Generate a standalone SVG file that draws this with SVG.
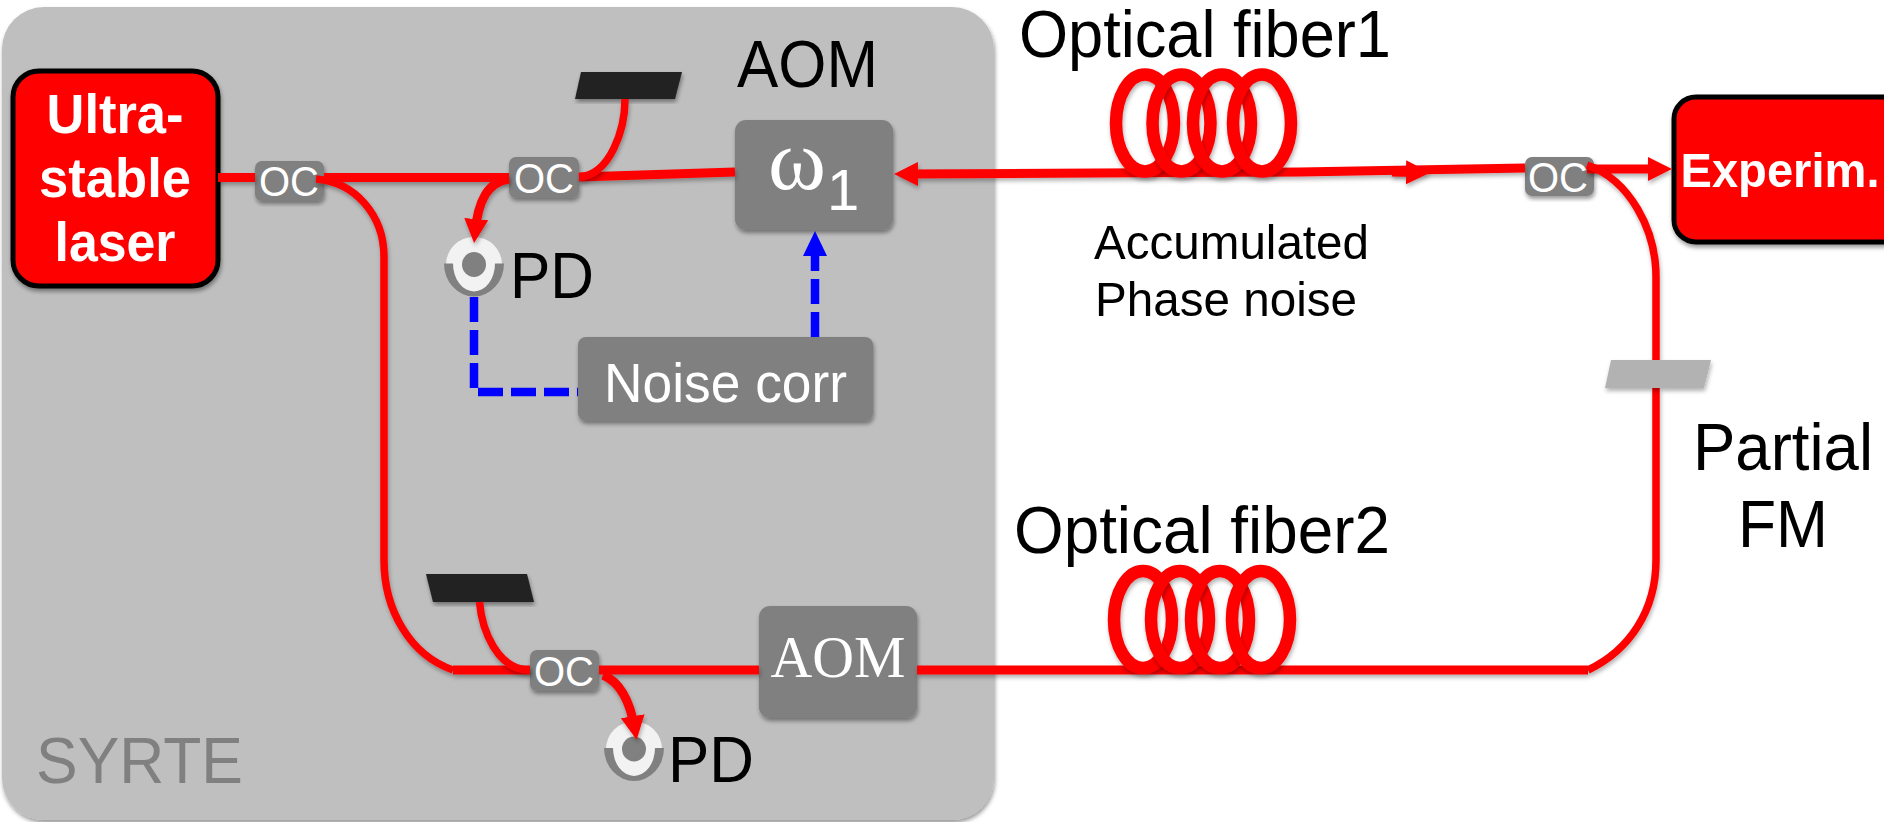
<svg xmlns="http://www.w3.org/2000/svg" width="1884" height="822" viewBox="0 0 1884 822">
<style>
text{font-family:"Liberation Sans",Arial,sans-serif}
.serif{font-family:"Liberation Serif","Times New Roman",serif}
.k{fill:#000}
.w{fill:#fff}
.b{font-weight:bold;fill:#fff;text-anchor:middle}
.box{fill:#808080;filter:url(#sh)}
.oc{font-size:42px;fill:#fff;text-anchor:middle}
.laser{fill:#f00;stroke:#000;stroke-width:5;filter:url(#sh)}
.r{fill:none;stroke:#f00;stroke-width:9;filter:url(#sh2)}
.r6{fill:none;stroke:#f00;stroke-width:7.500;filter:url(#sh2)}
.bl{fill:none;stroke:#00f;stroke-width:8.500;stroke-dasharray:25 8}
.coil{fill:none;stroke:#f00;stroke-width:12.500;filter:url(#sh2)}
.mir{fill:#222;filter:url(#sh)}
</style>
<defs>
<filter id="sh" x="-15%" y="-15%" width="130%" height="130%"><feDropShadow dx="1" dy="3" stdDeviation="2" flood-color="#000" flood-opacity=".4"/></filter>
<filter id="sh2" filterUnits="userSpaceOnUse" x="0" y="0" width="1884" height="822"><feDropShadow dx="1" dy="3" stdDeviation="2" flood-color="#000" flood-opacity=".3"/></filter>
<marker id="ar" markerUnits="userSpaceOnUse" markerWidth="30" markerHeight="28" refX="14" refY="14" orient="auto"><path d="M0 2L24 14L0 26Z" fill="#f00"/></marker>
<marker id="ab" markerUnits="userSpaceOnUse" markerWidth="30" markerHeight="28" refX="14" refY="14" orient="auto"><path d="M0 2L25 14L0 26Z" fill="#00f"/></marker>
<g id="pdshape">
<ellipse cx="0" cy="0" rx="28" ry="27.500" fill="#f2f2f2"/>
<path d="M-30 -1A30 33 0 0 0 30 -1L21 -1A21 28 0 0 1 -21 -1Z" fill="#808080"/>
<ellipse cx="0" cy="0" rx="12" ry="12.500" fill="#808080"/>
</g>
</defs>
<rect width="1884" height="822" fill="#fff"/>
<g id="syrte-panel">
<rect x="2" y="7" width="992" height="813" rx="42" fill="#bfbfbf" filter="url(#sh)"/>
<text x="36" y="783" font-size="65" fill="#808080" textLength="207" lengthAdjust="spacingAndGlyphs">SYRTE</text>
</g>
<g id="laser"><rect class="laser" x="13" y="71" width="205" height="215" rx="26"/>
<text class="b" x="115" y="133" font-size="55" textLength="137" lengthAdjust="spacingAndGlyphs">Ultra-</text>
<text class="b" x="115" y="197" font-size="55" textLength="152" lengthAdjust="spacingAndGlyphs">stable</text>
<text class="b" x="115" y="261" font-size="55" textLength="121" lengthAdjust="spacingAndGlyphs">laser</text></g>
<g id="experim"><rect class="laser" x="1674" y="97" width="240" height="145" rx="22"/>
<text class="b" x="1780" y="187" font-size="49" textLength="199" lengthAdjust="spacingAndGlyphs">Experim.</text></g>
<g id="oc1"><rect class="box" x="255" y="161" width="69" height="40" rx="7"/><text class="oc" x="289" y="196" textLength="60" lengthAdjust="spacingAndGlyphs">OC</text></g>
<g id="oc2"><rect class="box" x="509" y="157" width="70" height="41" rx="7"/><text class="oc" x="544" y="193" textLength="60" lengthAdjust="spacingAndGlyphs">OC</text></g>
<g id="oc3"><rect class="box" x="1525" y="157" width="69" height="39" rx="7"/><text class="oc" x="1558" y="192" textLength="60" lengthAdjust="spacingAndGlyphs">OC</text></g>
<g id="oc4"><rect class="box" x="530" y="650" width="69" height="41" rx="7"/><text class="oc" x="564" y="686" textLength="60" lengthAdjust="spacingAndGlyphs">OC</text></g>
<g id="aom1"><rect class="box" x="735" y="120" width="158" height="110" rx="11"/>
<text class="serif w" x="768" y="189" font-size="86" textLength="58" lengthAdjust="spacingAndGlyphs">ω</text><text class="w" x="827" y="210" font-size="58">1</text></g>
<g id="aom1-label"><text class="k" x="737" y="87" font-size="66" textLength="141" lengthAdjust="spacingAndGlyphs">AOM</text></g>
<g id="aom2"><rect class="box" x="759" y="606" width="158" height="112" rx="11"/>
<text class="serif w" x="838" y="677" font-size="60" text-anchor="middle" textLength="135" lengthAdjust="spacingAndGlyphs">AOM</text></g>
<g id="noise-corr"><rect class="box" x="578" y="337" width="295" height="84" rx="8"/>
<text class="w" x="604" y="402" font-size="55" textLength="243" lengthAdjust="spacingAndGlyphs">Noise corr</text></g>
<g id="mirror1"><path class="mir" d="M581 72H682L675 99H575Z"/></g>
<g id="mirror2"><path class="mir" d="M426 574H527L534 602H433Z"/></g>
<g id="pd1"><use href="#pdshape" x="474" y="264.500"/><text class="k" x="510" y="298" font-size="65" textLength="84" lengthAdjust="spacingAndGlyphs">PD</text></g>
<g id="pd2"><use href="#pdshape" x="634" y="749"/><text class="k" x="668" y="782" font-size="65" textLength="86" lengthAdjust="spacingAndGlyphs">PD</text></g>
<g id="connectors">
<path class="r" d="M218 177.500H255"/>
<path class="r" d="M324 177.500H509"/>
<path class="r" d="M579 177L735 172"/>
<path class="r" d="M1525 168L1300 172L904 174" marker-end="url(#ar)"/>
<path class="r" d="M1392 172L1420 172.500" marker-end="url(#ar)"/>
<path class="r" d="M1587 169H1662" marker-end="url(#ar)"/>
<path class="r6" d="M625 99C625 130 610 175 579 177"/>
<path class="r" d="M509 179C488 182 478 200 475 233" marker-end="url(#ar)"/>
<path class="r6" d="M316 179C355 182 384 215 384 257V560C384 610 410 655 453 670"/>
<path class="r" d="M453 670H530M599 670H759M917 670H1588"/>
<path class="r6" d="M479.500 602C482 630 497 670 530 670"/>
<path class="r" d="M603 675C620 682 630 700 635 730" marker-end="url(#ar)"/>
<path class="r6" d="M1587 165C1630 180 1656 230 1656 277V360"/>
<path class="r6" d="M1656 388V560C1656 610 1630 650 1588 670"/>
<path class="bl" d="M474 297V392H578"/>
<path class="bl" d="M815 337V242" marker-end="url(#ab)"/>
</g>
<g id="partial-mirror"><path d="M1611 360H1711L1704 388H1605Z" fill="#b2b2b2" filter="url(#sh2)"/></g>
<g id="fiber1">
<ellipse class="coil" cx="1145" cy="123" rx="29" ry="48.500"/><ellipse class="coil" cx="1181.500" cy="123" rx="29" ry="48.500"/><ellipse class="coil" cx="1222" cy="123" rx="29" ry="48.500"/><ellipse class="coil" cx="1262" cy="123" rx="29" ry="48.500"/>
<text class="k" x="1019" y="57" font-size="66" textLength="372" lengthAdjust="spacingAndGlyphs">Optical fiber1</text>
</g>
<g id="fiber2">
<ellipse class="coil" cx="1143" cy="619.500" rx="29" ry="48.500"/><ellipse class="coil" cx="1180" cy="619.500" rx="29" ry="48.500"/><ellipse class="coil" cx="1220" cy="619.500" rx="29" ry="48.500"/><ellipse class="coil" cx="1261" cy="619.500" rx="29" ry="48.500"/>
<text class="k" x="1014" y="553" font-size="66" textLength="376" lengthAdjust="spacingAndGlyphs">Optical fiber2</text>
</g>
<g id="labels">
<text class="k" x="1094" y="259" font-size="49" textLength="275" lengthAdjust="spacingAndGlyphs">Accumulated</text>
<text class="k" x="1095" y="316" font-size="49" textLength="262" lengthAdjust="spacingAndGlyphs">Phase noise</text>
<text class="k" x="1783" y="470" font-size="66" text-anchor="middle" textLength="180" lengthAdjust="spacingAndGlyphs">Partial</text>
<text class="k" x="1783" y="547" font-size="66" text-anchor="middle" textLength="90" lengthAdjust="spacingAndGlyphs">FM</text>
</g>
</svg>
